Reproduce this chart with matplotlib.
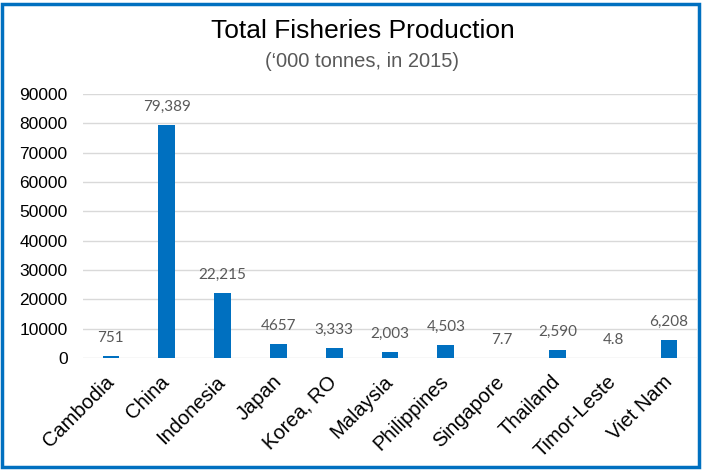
import numpy as np
import matplotlib
matplotlib.use("Agg")
import matplotlib.pyplot as plt
from matplotlib.patches import Rectangle

countries = ["Cambodia", "China", "Indonesia", "Japan", "Korea, RO", "Malaysia",
             "Philippines", "Singapore", "Thailand", "Timor-Leste", "Viet Nam"]
production = [751, 79389, 22215, 4657, 3333, 2003, 4503, 7.7, 2590, 4.8, 6208]
value_labels = ["751", "79,389", "22,215", "4657", "3,333", "2,003", "4,503",
                "7.7", "2,590", "4.8", "6,208"]
yticks = [0, 10000, 20000, 30000, 40000, 50000, 60000, 70000, 80000, 90000]

bar_color = "#0070C0"

fig = plt.figure(figsize=(7.02, 4.70), dpi=100)
ax = fig.add_axes([83 / 702, 1 - 358 / 470, 614 / 702, 264 / 470])

x = np.arange(len(countries))
ax.bar(x, production, width=0.3, color=bar_color, zorder=3)

for xi, v, lab in zip(x, production, value_labels):
    ax.annotate(lab, (xi, v), xytext=(0, 8), textcoords="offset points",
                ha="center", va="bottom", fontsize=11, color="#595959",
                family="Lato")

ax.set_xlim(-0.5, len(countries) - 0.5)
ax.set_ylim(0, 90000)
ax.set_yticks(yticks)
ax.set_yticklabels([str(t) for t in yticks], fontsize=12.5, family="Liberation Sans")
ax.set_xticks(x)
ax.set_xticklabels(countries, rotation=45, ha="right", va="center",
                   rotation_mode="anchor", fontsize=14.5, family="Liberation Sans")
ax.tick_params(axis="y", length=0, pad=11)
ax.tick_params(axis="x", length=0, pad=15)
ax.yaxis.grid(True, color="#D9D9D9", lw=1, zorder=0)
for s in ax.spines.values():
    s.set_visible(False)

fig.text(0.517, 1 - 38 / 470, "Total Fisheries Production", ha="center", va="baseline",
         fontsize=19, family="Liberation Sans", color="#000000")
fig.text(0.515, 1 - 67 / 470, "(\u2018000 tonnes, in 2015)", ha="center", va="baseline",
         fontsize=14.5, family="Liberation Sans", color="#595959")

# blue frame around the chart
fig.patches.append(Rectangle((2 / 702, 3 / 470), 697 / 702, 463 / 470, transform=fig.transFigure,
                             fill=False, edgecolor=bar_color, lw=2.5))

fig.savefig("out.png", dpi=100)
